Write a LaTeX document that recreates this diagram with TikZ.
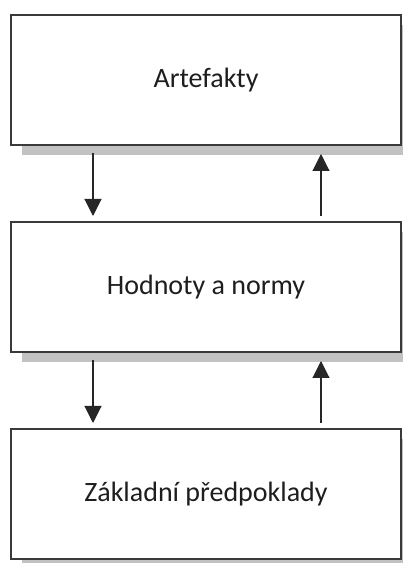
\documentclass[tikz,border=0pt]{standalone}
\usepackage{fontspec}
\setmainfont{Carlito}
\usetikzlibrary{calc,arrows.meta}
\definecolor{shadowgray}{HTML}{C2C2C2}
\definecolor{edgegray}{HTML}{3A3A3A}
\definecolor{textgray}{HTML}{1E1E1E}
\tikzset{
  layerbox/.style={draw=edgegray, line width=1.3pt, fill=white, minimum width=390pt, minimum height=130pt, inner sep=0pt, outer sep=0pt, text=textgray, font=\fontsize{28}{34}\selectfont},
  shadowbox/.style={fill=shadowgray, draw=none, minimum width=390pt, minimum height=130pt, inner sep=0pt, outer sep=0pt},
  flow/.style={draw=black!85, line width=1.1pt, -{Triangle[length=17pt,width=17pt]}}
}
\begin{document}
\begin{tikzpicture}[x=1pt,y=1pt]
\useasboundingbox (0,0) rectangle (403,563);
\clip (0,0) rectangle (403,563);
% shadows
\node[shadowbox] (s1) at (217,473) {};
\node[shadowbox] (s2) at (217,266) {};
\node[shadowbox] (s3) at (217,59) {};
% boxes
\node[layerbox] (b1) at (206,483) {Artefakty};
\node[layerbox] (b2) at (206,276) {Hodnoty a normy};
\node[layerbox] (b3) at (206,69) {Základní předpoklady};
% connector ends
\coordinate (d1s) at ($(b1.south west)+(82,-8)$);
\coordinate (d1e) at ($(b2.north west)+(82,6)$);
\coordinate (u1s) at ($(b2.north west)+(310,6)$);
\coordinate (u1e) at ($(b1.south west)+(310,-9)$);
\coordinate (d2s) at ($(b2.south west)+(82,-8)$);
\coordinate (d2e) at ($(b3.north west)+(82,6)$);
\coordinate (u2s) at ($(b3.north west)+(310,6)$);
\coordinate (u2e) at ($(b2.south west)+(310,-9)$);
\draw[flow] (d1s) -- (d1e);
\draw[flow] (u1s) -- (u1e);
\draw[flow] (d2s) -- (d2e);
\draw[flow] (u2s) -- (u2e);
\end{tikzpicture}
\end{document}
